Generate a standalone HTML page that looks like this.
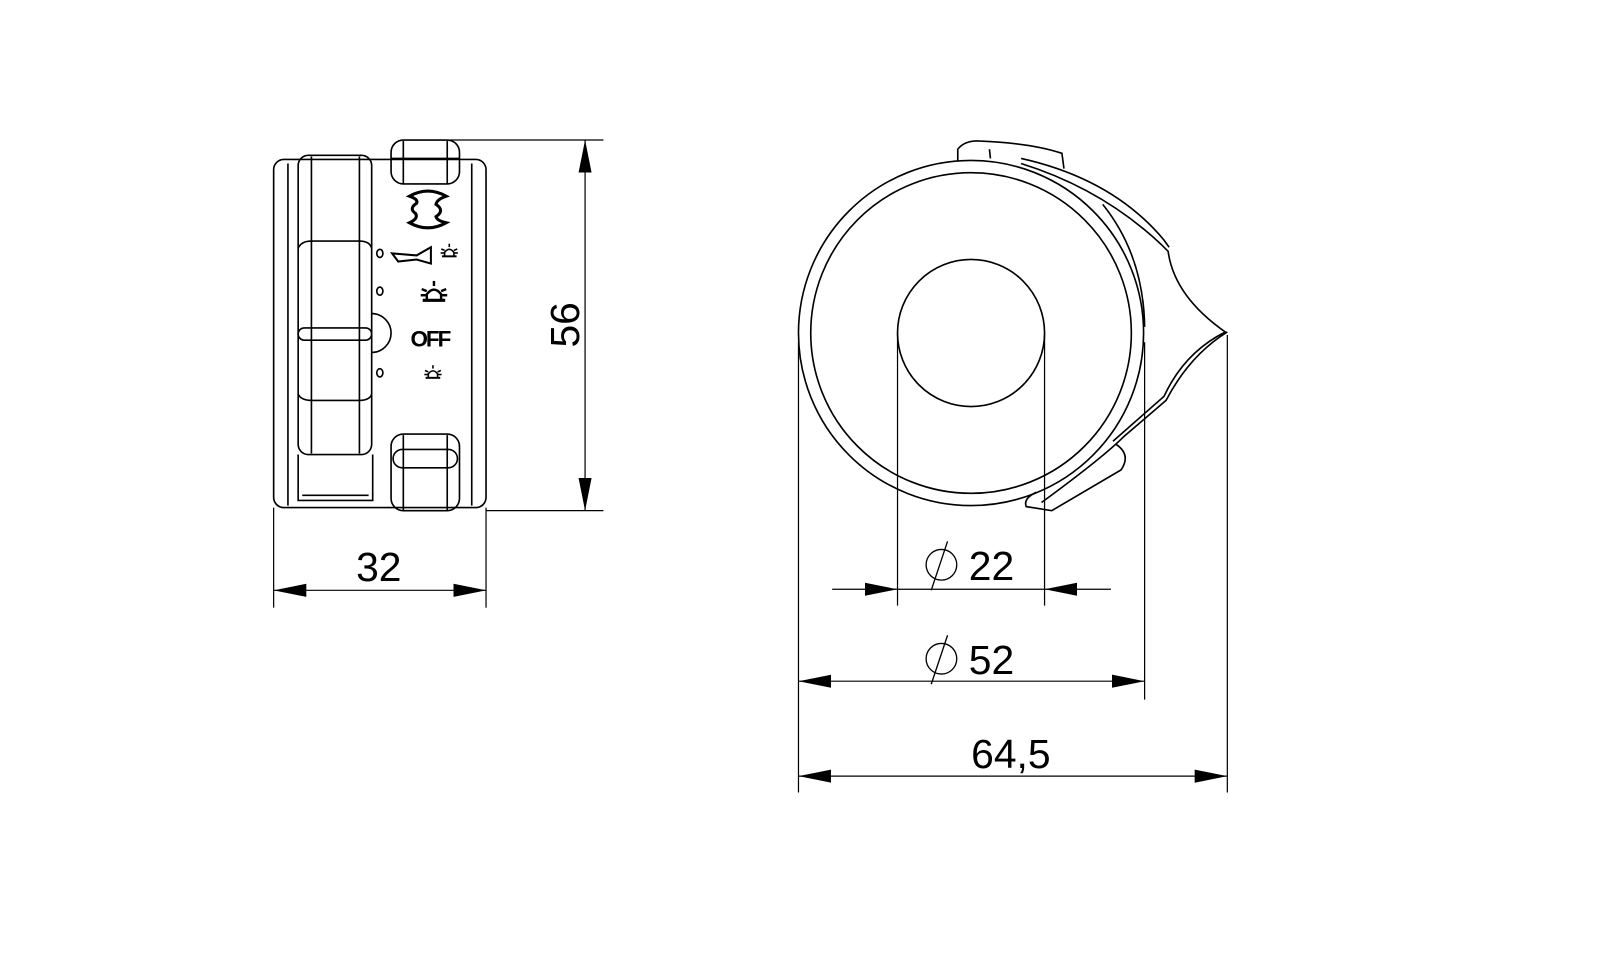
<!DOCTYPE html>
<html><head><style>html,body{margin:0;padding:0;background:#fff}svg{display:block}</style></head>
<body>
<svg width="1599" height="956" viewBox="0 0 1566 936" xmlns="http://www.w3.org/2000/svg" font-family="Liberation Sans, sans-serif">
<defs>
<marker id="a" viewBox="0 0 10 4" refX="10" refY="2" markerWidth="32" markerHeight="13" markerUnits="userSpaceOnUse" orient="auto-start-reverse"><path d="M0,0 L10,2 L0,4z" fill="#000"/></marker>
<g id="bc" fill="none" stroke="#000" stroke-width="2.4">
<path d="M-7 6 L-7 0 Q0 -9 7 0 L7 6"/>
<line x1="-11" y1="6" x2="11" y2="6" stroke-width="3"/>
<line x1="0" y1="-13" x2="0" y2="-8"/>
<line x1="-12" y1="-5" x2="-7" y2="-3"/><line x1="12" y1="-5" x2="7" y2="-3"/>
<line x1="-13" y1="1" x2="-8" y2="1"/><line x1="13" y1="1" x2="8" y2="1"/>
</g>
</defs>
<g fill="none" stroke="#000" stroke-width="1.6">
<rect x="268" y="156" width="208" height="341" rx="10"/>
<line x1="282" y1="160" x2="282" y2="495"/>
<line x1="462" y1="160" x2="462" y2="495"/>
<rect x="292" y="152" width="72" height="293" rx="10"/>
<line x1="305" y1="153" x2="305" y2="444"/>
<line x1="352" y1="153" x2="352" y2="444"/>
<path d="M292 243 Q295 236 305 236 L352 236 Q362 236 364 243"/>
<rect x="292" y="321" width="72" height="12" rx="6"/>
<path d="M292 386 Q295 392 305 392 L352 392 Q362 392 364 386"/>
<path d="M292 445 L292 490 L365 490 L365 445"/>
<line x1="296" y1="485" x2="361" y2="485"/>
<path d="M364 307 A18 18 0 0 1 364 345"/>
<rect x="383" y="137" width="67" height="43" rx="12"/>
<line x1="383" y1="155" x2="450" y2="155"/>
<line x1="395" y1="138" x2="395" y2="180"/>
<line x1="438" y1="138" x2="438" y2="180"/>
<rect x="383" y="425" width="67" height="75" rx="12"/>
<rect x="385" y="440" width="63" height="18" rx="9"/>
<line x1="395" y1="426" x2="395" y2="500"/>
<line x1="438" y1="426" x2="438" y2="500"/>
<ellipse cx="372" cy="248" rx="3" ry="4"/>
<ellipse cx="372" cy="285" rx="3" ry="4"/>
<ellipse cx="372" cy="365" rx="3" ry="4"/>
<path d="M401 192 Q419 182 437 192 Q428 195 427 200 Q436 206 427 212 Q428 216 437 218 Q419 228 401 218 Q410 214 407 209 Q400 204 408 199 Q410 195 401 192z" stroke-width="3"/>
<path d="M384 248 L408 250 L422 242 L422 258 L408 254 L390 256z" stroke-width="2"/>
<circle cx="951" cy="326" r="169"/>
<circle cx="951" cy="326" r="157"/>
<circle cx="951" cy="326" r="72"/>
<path d="M1000 160 Q1080 185 1138 240 L1144 246 Q1150 290 1200 325 Q1160 345 1140 388 Q1115 410 1090 432"/>
<path d="M1000 155 Q1090 175 1140 235 L1145 242"/>
<path d="M1080 200 Q1120 250 1121 320"/>
<path d="M1202 325 Q1165 348 1142 392 L1100 428 Q1080 448 1020 492"/>
<path d="M1093 435 Q1108 445 1098 460 L1030 500 L1005 496 Q1002 488 1015 482"/>
<path d="M938 157 L938 146 Q945 137 960 138 Q1010 140 1040 150 L1042 165"/>
<line x1="969" y1="146" x2="970" y2="155"/>
<line x1="268" y1="497" x2="268" y2="595" stroke-width="1.2"/>
<line x1="476" y1="497" x2="476" y2="595" stroke-width="1.2"/>
<line x1="440" y1="137" x2="591" y2="137" stroke-width="1.2"/>
<line x1="476" y1="500" x2="591" y2="500" stroke-width="1.2"/>
<line x1="782" y1="335" x2="782" y2="776" stroke-width="1.2"/>
<line x1="1121" y1="335" x2="1121" y2="685" stroke-width="1.2"/>
<line x1="1202" y1="328" x2="1202" y2="776" stroke-width="1.2"/>
<line x1="879" y1="326" x2="879" y2="593" stroke-width="1.2"/>
<line x1="1023" y1="326" x2="1023" y2="593" stroke-width="1.2"/>
<line x1="268" y1="578" x2="476" y2="578" stroke-width="1.2" marker-start="url(#a)" marker-end="url(#a)"/>
<line x1="573" y1="137" x2="573" y2="500" stroke-width="1.2" marker-start="url(#a)" marker-end="url(#a)"/>
<line x1="815" y1="577" x2="879" y2="577" stroke-width="1.2" marker-end="url(#a)"/>
<line x1="879" y1="577" x2="1023" y2="577" stroke-width="1.2"/>
<line x1="1088" y1="577" x2="1023" y2="577" stroke-width="1.2" marker-end="url(#a)"/>
<line x1="782" y1="667" x2="1121" y2="667" stroke-width="1.2" marker-start="url(#a)" marker-end="url(#a)"/>
<line x1="782" y1="760" x2="1202" y2="760" stroke-width="1.2" marker-start="url(#a)" marker-end="url(#a)"/>
<circle cx="922" cy="553" r="15" stroke-width="1.3"/>
<line x1="928" y1="530" x2="912" y2="578" stroke-width="1.3"/>
<circle cx="922" cy="645" r="15" stroke-width="1.3"/>
<line x1="928" y1="622" x2="912" y2="670" stroke-width="1.3"/>
</g>
<use href="#bc" transform="translate(440,247) scale(0.65)"/>
<use href="#bc" transform="translate(425,288)"/>
<use href="#bc" transform="translate(424,366) scale(0.65)"/>
<text x="421" y="339" font-size="22" font-weight="bold" text-anchor="middle" letter-spacing="-2">OFF</text>
<g font-size="40" text-anchor="middle">
<text x="371" y="569">32</text>
<text transform="translate(567,318) rotate(-90)">56</text>
<text x="971" y="568">22</text>
<text x="971" y="660">52</text>
<text x="990" y="752">64,5</text>
</g>
</svg>
</body></html>
